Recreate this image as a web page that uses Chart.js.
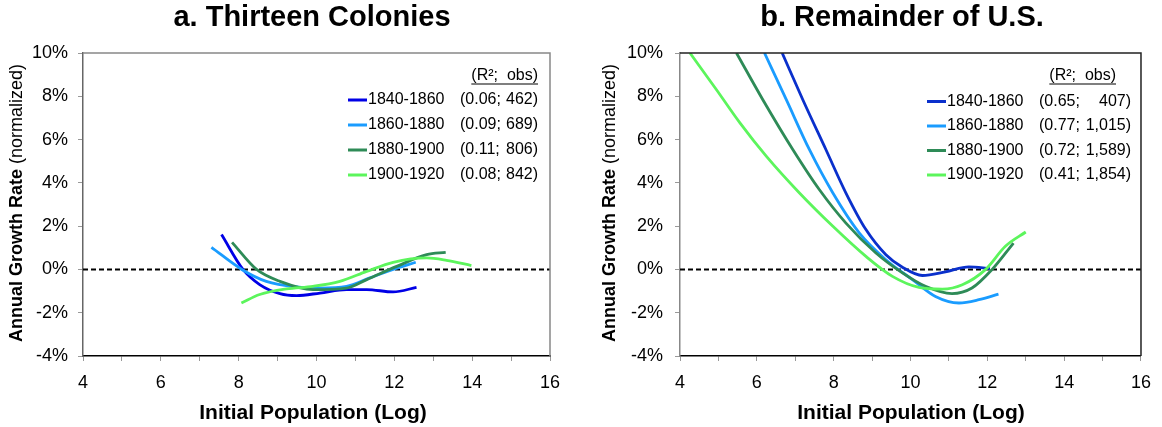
<!DOCTYPE html>
<html><head><meta charset="utf-8">
<script src="https://cdn.jsdelivr.net/npm/chart.js@4.4.0/dist/chart.umd.min.js"></script>
<style>
html,body{margin:0;padding:0;background:#fff;}
#wrap{position:relative;width:1162px;height:427px;background:#fff;}
canvas{position:absolute;top:0;}
</style></head><body>
<div id="wrap">
<canvas id="c1" width="581" height="427" style="left:0"></canvas>
<canvas id="c2" width="581" height="427" style="left:581px"></canvas>
</div>
<script>
const FONT = "'Liberation Sans', Arial, Helvetica, sans-serif";

// ---- data ----
const periods = ['1840-1860', '1860-1880', '1880-1900', '1900-1920'];
const xLabelTicks = [4, 6, 8, 10, 12, 14, 16];
const yTicks = [-4, -2, 0, 2, 4, 6, 8, 10];

// a. Thirteen Colonies
const tcR2 = ['0.06', '0.09', '0.11', '0.08'];
const tcObs = ['462', '689', '806', '842'];
const tc1840x = [7.56, 8.11, 8.54, 9.06, 9.49, 10.09, 10.77, 11.29, 11.97, 12.57];
const tc1840y = [1.61, 0.00, -0.70, -1.12, -1.21, -1.09, -0.93, -0.93, -1.04, -0.83];
const tc1860x = [7.30, 8.08, 8.71, 9.49, 10.09, 10.77, 11.37, 11.97, 12.55];
const tc1860y = [1.02, 0.00, -0.55, -0.81, -0.86, -0.78, -0.39, 0.00, 0.33];
const tc1880x = [7.83, 8.46, 9.06, 9.91, 10.77, 11.29, 12.06, 12.83, 13.32];
const tc1880y = [1.25, 0.00, -0.55, -0.93, -0.86, -0.47, 0.14, 0.68, 0.79];
const tc1900x = [8.07, 8.54, 9.23, 9.91, 10.60, 11.29, 11.97, 12.83, 13.34, 13.98];
const tc1900y = [-1.55, -1.16, -0.90, -0.78, -0.55, -0.09, 0.33, 0.53, 0.42, 0.18];

// b. Remainder of U.S.
const ruR2 = ['0.65', '0.77', '0.72', '0.41'];
const ruObs = ['407', '1,015', '1,589', '1,854'];
const ru1840x = [6.66, 7.20, 7.80, 8.32, 8.84, 9.36, 9.79, 10.31, 10.91, 11.52, 12.07];
const ru1840y = [10.0, 7.83, 5.53, 3.53, 1.84, 0.68, 0.10, -0.28, -0.11, 0.12, 0.04];
const ru1860x = [6.20, 6.77, 7.37, 7.98, 8.67, 9.36, 10.05, 10.65, 11.26, 11.78, 12.29];
const ru1860y = [10.0, 7.83, 5.53, 3.53, 1.68, 0.45, -0.47, -1.25, -1.55, -1.40, -1.14];
const ru1880x = [5.47, 6.16, 6.94, 7.63, 8.32, 9.10, 9.79, 10.39, 11.08, 11.60, 12.12, 12.68];
const ru1880y = [10.0, 7.83, 5.53, 3.68, 2.14, 0.76, -0.16, -0.78, -1.12, -0.86, -0.01, 1.22];
const ru1900x = [4.26, 4.95, 5.56, 6.25, 7.11, 7.98, 8.84, 9.53, 10.22, 10.83, 11.35, 11.95, 12.47, 13.00];
const ru1900y = [10.0, 8.30, 6.77, 5.22, 3.53, 1.99, 0.60, -0.32, -0.83, -0.91, -0.71, -0.01, 1.07, 1.73];

const zeroLineX = [4, 16];
const zeroLineY = [0, 0];

// ---- helpers ----
const zip = (xs, ys) => xs.map((x, i) => ({x: x, y: ys[i]}));

function makeDatasets(series, colors) {
  const ds = [{
    label: 'zero', data: zip(zeroLineX, zeroLineY), borderColor: '#000',
    borderWidth: 2, borderDash: [5, 3], pointRadius: 0, tension: 0, order: 10
  }];
  series.forEach((s, i) => {
    ds.push({
      label: periods[i], data: zip(s[0], s[1]), borderColor: colors[i],
      borderWidth: 2.8, pointRadius: 0, cubicInterpolationMode: 'monotone',
      fill: false, order: 4 - i
    });
  });
  return ds;
}

function decorPlugin(cfg) {
  return {
    id: 'decor',
    afterDraw(chart) {
      const ctx = chart.ctx;
      const a = chart.chartArea;
      ctx.save();
      // frame top/right
      ctx.strokeStyle = cfg.frameColor; ctx.lineWidth = 1.5;
      ctx.beginPath();
      ctx.moveTo(a.left, a.top); ctx.lineTo(a.right, a.top); ctx.lineTo(a.right, a.bottom);
      ctx.stroke();
      // title
      ctx.fillStyle = '#000';
      ctx.font = 'bold 29px ' + FONT;
      ctx.textAlign = 'center'; ctx.textBaseline = 'alphabetic';
      ctx.fillText(cfg.title, cfg.titleX, 26);
      // x title
      ctx.font = 'bold 21px ' + FONT;
      ctx.fillText('Initial Population (Log)', cfg.xTitleX, 419);
      // y title (mixed weight)
      ctx.save();
      ctx.translate(cfg.yTitleX, 203);
      ctx.rotate(-Math.PI / 2);
      const boldTxt = 'Annual Growth Rate ';
      const normTxt = '(normalized)';
      ctx.font = 'bold 18px ' + FONT;
      const wb = ctx.measureText(boldTxt).width;
      ctx.font = '18px ' + FONT;
      const wn = ctx.measureText(normTxt).width;
      const start = -(wb + wn) / 2;
      ctx.textAlign = 'left'; ctx.textBaseline = 'middle';
      ctx.font = 'bold 18px ' + FONT;
      ctx.fillText(boldTxt, start, 0);
      ctx.font = '18px ' + FONT;
      ctx.fillText(normTxt, start + wb, 0);
      ctx.restore();
      // legend
      ctx.font = '16px ' + FONT;
      ctx.textBaseline = 'middle';
      ctx.textAlign = 'right';
      const hdr = '(R\u00B2;  obs)';
      ctx.fillText(hdr, cfg.hdrRight, cfg.hdrY);
      const hw = ctx.measureText(hdr).width;
      ctx.strokeStyle = '#000'; ctx.lineWidth = 1.2;
      ctx.beginPath();
      ctx.moveTo(cfg.hdrRight - hw, cfg.hdrY + 8); ctx.lineTo(cfg.hdrRight, cfg.hdrY + 8);
      ctx.stroke();
      const sets = chart.data.datasets.slice(1);
      sets.forEach((d, i) => {
        const y = cfg.rowY0 + i * cfg.rowDy;
        ctx.strokeStyle = d.borderColor; ctx.lineWidth = 3;
        ctx.beginPath(); ctx.moveTo(cfg.lineX0, y); ctx.lineTo(cfg.lineX1, y); ctx.stroke();
        ctx.fillStyle = '#000';
        ctx.textAlign = 'left';
        ctx.fillText(d.label, cfg.lineX1 + 1, y);
        ctx.fillText('(' + cfg.r2[i] + ';', cfg.statX, y);
        ctx.textAlign = 'right';
        ctx.fillText(cfg.obs[i] + ')', cfg.statRight, y);
      });
      ctx.restore();
    }
  };
}

function makeChart(id, datasets, plotLeft, plotRight, leftBorderColor, tickPad, plugin) {
  return new Chart(document.getElementById(id), {
    type: 'line',
    data: {datasets: datasets},
    options: {
      responsive: false, animation: false, devicePixelRatio: 1,
      layout: {padding: {top: 53, right: 581 - plotRight, left: 0, bottom: 0}},
      plugins: {legend: {display: false}, tooltip: {enabled: false}, title: {display: false}},
      scales: {
        x: {
          type: 'linear', min: 4, max: 16,
          ticks: {
            stepSize: 1, autoSkip: false, maxRotation: 0, padding: 11,
            color: '#000', font: {size: 18, family: FONT},
            callback: v => xLabelTicks.includes(v) ? String(v) : ''
          },
          grid: {drawOnChartArea: false, drawTicks: true, tickLength: 5, color: '#999'},
          border: {color: '#000', width: 1.5},
          afterFit: s => { s.height = 71; }
        },
        y: {
          type: 'linear', min: -4, max: 10,
          afterBuildTicks: s => { s.ticks = yTicks.map(v => ({value: v})); },
          ticks: {
            padding: tickPad, color: '#000', font: {size: 18, family: FONT},
            callback: v => v + '%'
          },
          grid: {drawOnChartArea: false, drawTicks: true, tickLength: 5, color: '#999'},
          border: {color: leftBorderColor, width: 1.5},
          afterFit: s => { s.width = plotLeft; }
        }
      }
    },
    plugins: [plugin]
  });
}

const tcColors = ['#0000e6', '#1a9cff', '#2e8b57', '#5cf55c'];
const ruColors = ['#0a30cc', '#1a9cff', '#2e8b57', '#5cf55c'];

makeChart('c1',
  makeDatasets([[tc1840x, tc1840y], [tc1860x, tc1860y], [tc1880x, tc1880y], [tc1900x, tc1900y]], tcColors),
  83, 550, '#666', 10,
  decorPlugin({
    frameColor: '#888', title: 'a. Thirteen Colonies', titleX: 312, xTitleX: 313, yTitleX: 17,
    hdrRight: 538, hdrY: 76, rowY0: 100, rowDy: 25, lineX0: 348, lineX1: 367,
    statX: 460, statRight: 538, r2: tcR2, obs: tcObs
  }));

makeChart('c2',
  makeDatasets([[ru1840x, ru1840y], [ru1860x, ru1860y], [ru1880x, ru1880y], [ru1900x, ru1900y]], ruColors),
  99, 562, '#888', 12,
  decorPlugin({
    frameColor: '#222', title: 'b. Remainder of U.S.', titleX: 321, xTitleX: 330, yTitleX: 29,
    hdrRight: 535, hdrY: 76, rowY0: 101.5, rowDy: 24.5, lineX0: 346, lineX1: 365,
    statX: 458, statRight: 550, r2: ruR2, obs: ruObs
  }));
</script>
</body></html>
